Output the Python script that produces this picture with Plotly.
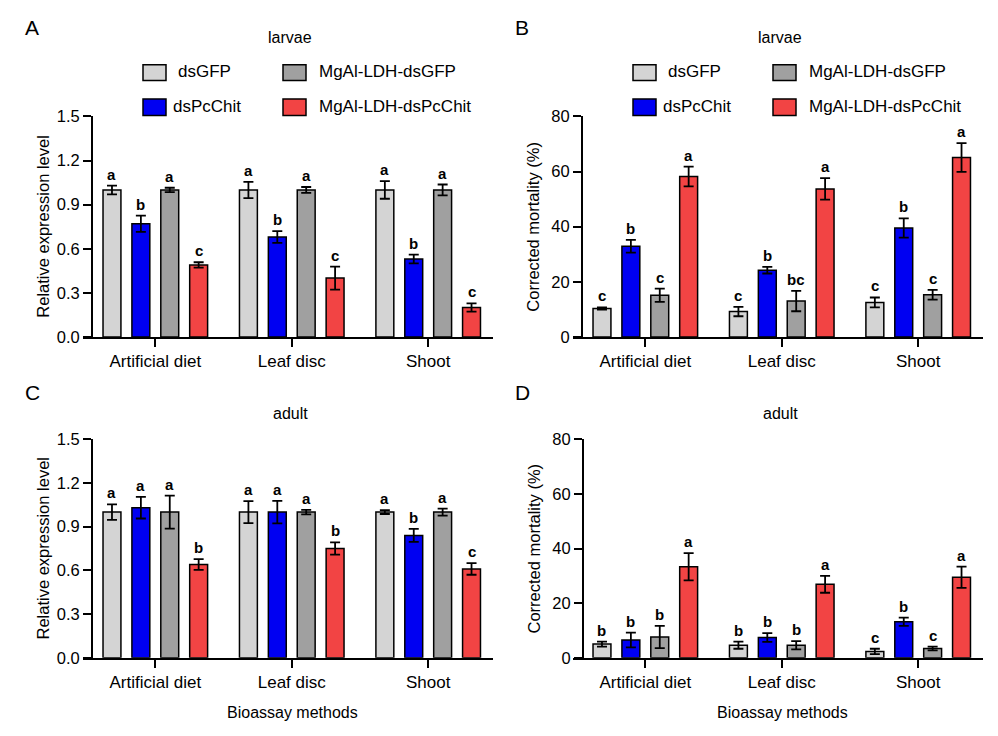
import plotly.graph_objects as go

# --- data ---
methods = ["Artificial diet", "Leaf disc", "Shoot"]
treatments = ["dsGFP", "dsPcChit", "MgAl-LDH-dsGFP", "MgAl-LDH-dsPcChit"]
colors = ["#D4D4D4", "#0000F2", "#A0A0A0", "#F24444"]

# A: larvae, relative expression (rows = treatments, cols = methods)
larvae_expr = [[1.00, 1.00, 1.00], [0.77, 0.68, 0.53], [1.00, 1.00, 1.00], [0.49, 0.40, 0.20]]
larvae_expr_err = [[0.03, 0.055, 0.06], [0.055, 0.04, 0.03], [0.015, 0.02, 0.037], [0.018, 0.078, 0.028]]
larvae_expr_sig = [["a", "a", "a"], ["b", "b", "b"], ["a", "a", "a"], ["c", "c", "c"]]

# B: larvae, corrected mortality (%)
larvae_mort = [[10.3, 9.2, 12.5], [32.9, 24.2, 39.5], [15.1, 13.0, 15.3], [58.2, 53.7, 65.1]]
larvae_mort_err = [[0.4, 1.7, 1.8], [2.3, 1.2, 3.5], [2.4, 3.7, 1.8], [3.6, 3.9, 5.2]]
larvae_mort_sig = [["c", "c", "c"], ["b", "b", "b"], ["c", "bc", "c"], ["a", "a", "a"]]

# C: adult, relative expression
adult_expr = [[1.00, 1.00, 1.00], [1.03, 1.00, 0.84], [1.00, 1.00, 1.00], [0.64, 0.75, 0.61]]
adult_expr_err = [[0.053, 0.075, 0.013], [0.074, 0.077, 0.045], [0.113, 0.015, 0.024], [0.037, 0.042, 0.04]]
adult_expr_sig = [["a", "a", "a"], ["a", "a", "b"], ["a", "a", "a"], ["b", "b", "c"]]

# D: adult, corrected mortality (%)
adult_mort = [[5.0, 4.6, 2.3], [6.5, 7.4, 13.2], [7.6, 4.6, 3.4], [33.3, 26.9, 29.5]]
adult_mort_err = [[0.9, 1.3, 1.0], [2.7, 1.6, 1.5], [4.1, 1.5, 0.7], [5.0, 3.1, 3.9]]
adult_mort_sig = [["b", "b", "c"], ["b", "b", "b"], ["b", "b", "c"], ["a", "a", "a"]]

# the page body has an 8px margin, so the figure is shrunk and every
# screen position below is shifted by that amount
OFF = 8
W, H = 998 - OFF, 736 - OFF
FONT = "Liberation Sans, Arial, sans-serif"
BARGAP = 0.153
SLOT = (1 - BARGAP) / len(treatments)


def px(x):
    return (x - OFF) / W


def py(y):
    return 1 - (y - OFF) / H


def text_at(x, y, text, size=16, **kw):
    # paper-referenced label, centred on the point unless told otherwise
    d = dict(x=px(x), y=py(y), xref="paper", yref="paper", text=text, showarrow=False,
             xanchor="center", yanchor="middle", font=dict(family=FONT, size=size, color="black"))
    d.update(kw)
    return d


panels = [
    # letter, title, means, errs, sigs, x-domain px, y-domain px (bottom, top), y-axis px, yrange, ticks, ytitle
    ("A", "larvae", larvae_expr, larvae_expr_err, larvae_expr_sig, (83, 493), (336, 110), 92,
     [0, 1.5], [0, 0.3, 0.6, 0.9, 1.2, 1.5], "Relative expression level"),
    ("B", "larvae", larvae_mort, larvae_mort_err, larvae_mort_sig, (573, 983), (336, 110), 582,
     [0, 80], [0, 20, 40, 60, 80], "Corrected mortality (%)"),
    ("C", "adult", adult_expr, adult_expr_err, adult_expr_sig, (83, 493), (665, 441), 92,
     [0, 1.5], [0, 0.3, 0.6, 0.9, 1.2, 1.5], "Relative expression level"),
    ("D", "adult", adult_mort, adult_mort_err, adult_mort_sig, (573, 983), (665, 441), 583,
     [0, 80], [0, 20, 40, 60, 80], "Corrected mortality (%)"),
]

fig = go.Figure()
annotations = []
shapes = []
layout_axes = {}

for k, (letter, title, means, errs, sigs, xd, yd, ypos, yrange, yticks, ytitle) in enumerate(panels):
    n = "" if k == 0 else str(k + 1)
    xref, yref = "x" + n, "y" + n
    for i, name in enumerate(treatments):
        fig.add_trace(go.Bar(
            x=methods, y=means[i], name=name, showlegend=False,
            marker=dict(color=colors[i], line=dict(color="black", width=1.5)),
            error_y=dict(type="data", array=errs[i], color="black", thickness=1.8, width=5),
            xaxis=xref, yaxis=yref,
        ))
        # significance letters above the error bars
        for j in range(len(methods)):
            annotations.append(dict(
                x=j + (i - 1.5) * SLOT, y=means[i][j] + errs[i][j], xref=xref, yref=yref,
                text=sigs[i][j], showarrow=False, xanchor="center", yanchor="bottom", yshift=1,
                font=dict(family=FONT, size=15, color="black", weight="bold"),
            ))

    layout_axes["xaxis" + n] = dict(
        domain=[px(xd[0]), px(xd[1])], anchor=yref, range=[-0.53, 2.475],
        showline=True, linewidth=2, linecolor="black", ticks="outside", ticklen=8, tickwidth=2,
        tickcolor="black", tickfont=dict(family=FONT, size=17, color="black"),
        showgrid=False, zeroline=False,
    )
    layout_axes["yaxis" + n] = dict(
        domain=[py(yd[0]), py(yd[1])], anchor="free", position=px(ypos), range=yrange,
        tickvals=yticks, tickformat=".1f" if yrange[1] < 10 else "d",
        showline=True, linewidth=2, linecolor="black", ticks="outside", ticklen=8, tickwidth=2,
        tickcolor="black", tickfont=dict(family=FONT, size=16.5, color="black"),
        showgrid=False, zeroline=False,
    )

    # axis titles, panel letter and panel title
    annotations.append(text_at(ypos - 49, (yd[0] + yd[1]) / 2, ytitle, size=16.5, textangle=-90))
    if k >= 2:
        annotations.append(text_at((xd[0] + xd[1]) / 2 + 4, 721, "Bioassay methods"))
    annotations.append(text_at(xd[0] - 51, 19 if k < 2 else 393, letter, size=21))
    annotations.append(text_at((xd[0] + xd[1]) / 2 + 2, 29 if k < 2 else 415, title))

    # legend above the top panels
    if k < 2:
        rows = [(57, 73), (92, 109)]
        for i, name in enumerate(treatments):
            r = rows[i % 2]
            col = i // 2
            sx = xd[0] + (60 if col == 0 else 200)
            shapes.append(dict(type="rect", xref="paper", yref="paper",
                               x0=px(sx), x1=px(sx + 23), y0=py(r[1]), y1=py(r[0]),
                               fillcolor=colors[i], line=dict(color="black", width=1.5)))
            tx = xd[0] + ((93 if i % 2 == 0 else 88) if col == 0 else 234)
            annotations.append(text_at(tx, (r[0] + r[1]) / 2 - 1, name, size=17, xanchor="left"))

fig.update_layout(
    width=W, height=H, margin=dict(l=0, r=0, t=0, b=0),
    barmode="group", bargap=BARGAP, bargroupgap=0.38,
    plot_bgcolor="white", paper_bgcolor="white",
    font=dict(family=FONT, size=16, color="black"),
    annotations=annotations, shapes=shapes,
    **layout_axes,
)

fig.write_html("out.html")
